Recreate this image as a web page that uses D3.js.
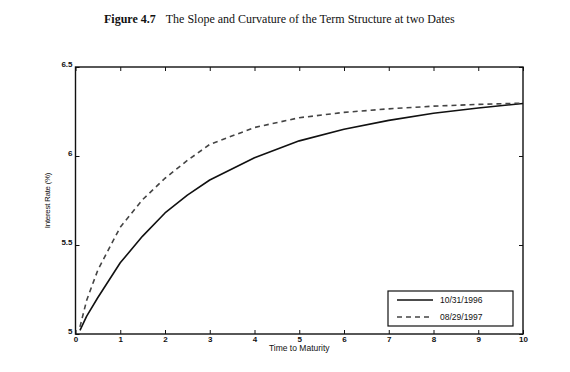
<!DOCTYPE html>
<html>
<head>
<meta charset="utf-8" />
<script src="https://d3js.org/d3.v7.min.js"></script>
<style>
  body { margin: 0; background: #fff; }
  svg { font-family: "Liberation Sans", Arial, sans-serif; }
  .tick text { font-size: 8px; fill: #111; font-weight: bold; }
</style>
</head>
<body>
<svg id="chart" width="570" height="372"></svg>
<script>
// maturities (years) and zero rates (%)
var maturity = [0.1, 0.25, 0.5, 1, 1.5, 2, 2.5, 3, 4, 5, 6, 7, 8, 9, 10];
var rate1996 = [5.02, 5.10, 5.205, 5.40, 5.55, 5.68, 5.78, 5.865, 5.99, 6.085, 6.15, 6.2, 6.24, 6.27, 6.295];
var rate1997 = [5.04, 5.19, 5.36, 5.60, 5.755, 5.875, 5.975, 6.065, 6.16, 6.215, 6.245, 6.265, 6.28, 6.29, 6.297];
var seriesNames = ['10/31/1996', '08/29/1997'];
var xTicks = [0, 1, 2, 3, 4, 5, 6, 7, 8, 9, 10];
var yTicks = [5, 5.5, 6, 6.5];

var margin = { left: 75.5, right: 47, top: 67, bottom: 38 };
var W = 570, H = 372;
var iw = W - margin.left - margin.right;
var ih = H - margin.top - margin.bottom;

var svg = d3.select('#chart');

// title
var title = svg.append('text')
  .attr('x', 104).attr('y', 23)
  .style('font-family', '"Liberation Serif", "Times New Roman", serif')
  .style('font-size', '12px')
  .attr('fill', '#111');
title.append('tspan').style('font-weight', 'bold').text('Figure 4.7');
title.append('tspan').attr('dx', 10).text('The Slope and Curvature of the Term Structure at two Dates');

var g = svg.append('g').attr('transform', 'translate(' + margin.left + ',' + margin.top + ')');

var x = d3.scaleLinear().domain([0, 10]).range([0, iw]);
var y = d3.scaleLinear().domain([5, 6.5]).range([ih, 0]);

// axes with inward ticks (matlab style)
var fmt = d3.format('');
g.append('g').attr('transform', 'translate(0,' + ih + ')')
  .call(d3.axisBottom(x).tickValues(xTicks).tickSize(-4).tickPadding(2).tickFormat(fmt))
  .call(function (s) { s.select('.domain').remove(); s.selectAll('line').attr('stroke', '#111'); });
g.append('g')
  .call(d3.axisTop(x).tickValues(xTicks).tickSize(-4).tickFormat(''))
  .call(function (s) { s.select('.domain').remove(); s.selectAll('line').attr('stroke', '#111'); });
g.append('g')
  .call(d3.axisLeft(y).tickValues(yTicks).tickSize(-4).tickPadding(3).tickFormat(fmt))
  .call(function (s) {
    s.select('.domain').remove();
    s.selectAll('line').attr('stroke', '#111');
    s.selectAll('text').attr('dy', '-0.05em');
  });
g.append('g').attr('transform', 'translate(' + iw + ',0)')
  .call(d3.axisRight(y).tickValues(yTicks).tickSize(-4).tickFormat(''))
  .call(function (s) { s.select('.domain').remove(); s.selectAll('line').attr('stroke', '#111'); });

g.append('rect')
  .attr('width', iw).attr('height', ih)
  .attr('fill', 'none').attr('stroke', '#111').attr('stroke-width', 1.4);

// axis labels
svg.append('text')
  .attr('x', margin.left + iw / 2).attr('y', 351)
  .attr('text-anchor', 'middle')
  .style('font-size', '8.5px').attr('fill', '#111')
  .text('Time to Maturity');
svg.append('text')
  .attr('transform', 'translate(50,' + (margin.top + ih / 2) + ') rotate(-90)')
  .attr('text-anchor', 'middle')
  .style('font-size', '8px').style('letter-spacing', '-0.3px').attr('fill', '#111')
  .text('Interest Rate (%)');

// curves
var line = d3.line()
  .x(function (d) { return x(d[0]); })
  .y(function (d) { return y(d[1]); });

var styles = [
  { stroke: '#111', dash: null },
  { stroke: '#444', dash: '5,4' }
];
[rate1996, rate1997].forEach(function (vals, i) {
  g.append('path')
    .datum(maturity.map(function (m, k) { return [m, vals[k]]; }))
    .attr('d', line)
    .attr('fill', 'none')
    .attr('stroke', styles[i].stroke)
    .attr('stroke-width', 1.6)
    .attr('stroke-linejoin', 'round')
    .attr('stroke-dasharray', styles[i].dash);
});

// legend
var lg = svg.append('g').attr('transform', 'translate(388,291)');
lg.append('rect').attr('width', 125).attr('height', 35)
  .attr('fill', '#fff').attr('stroke', '#111').attr('stroke-width', 1.2);
seriesNames.forEach(function (name, i) {
  var yy = 9 + i * 17;
  lg.append('line').attr('x1', 9).attr('x2', 45).attr('y1', yy).attr('y2', yy)
    .attr('stroke', styles[i].stroke).attr('stroke-width', 1.5)
    .attr('stroke-dasharray', styles[i].dash);
  lg.append('text').attr('x', 52).attr('y', yy + 3)
    .style('font-size', '8.5px').attr('fill', '#111').text(name);
});
</script>
</body>
</html>
